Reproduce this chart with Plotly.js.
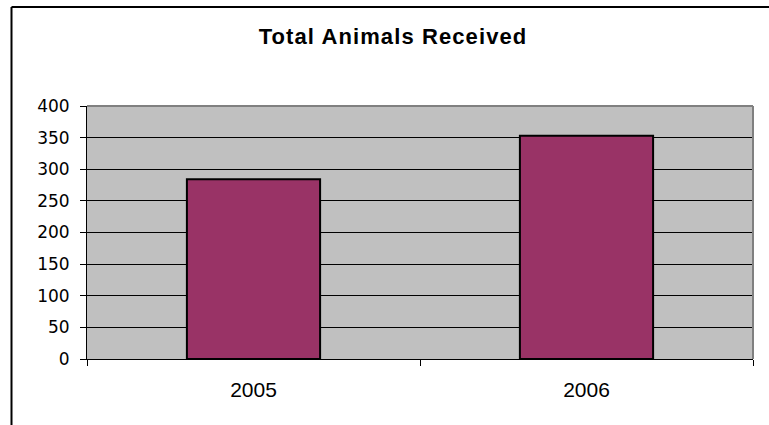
<!DOCTYPE html>
<html>
<head>
<meta charset="utf-8">
<script src="https://cdn.plot.ly/plotly-3.0.1.min.js"></script>
<style>html,body{margin:0;padding:0;background:#fff;}#chart{width:769px;height:425px;}
#chart .gtitle{letter-spacing:1.1px;}</style>
</head>
<body>
<div id="chart"></div>
<script>
const categories = ["2005", "2006"];
const animalsReceived = [284, 353];
const yTickValues = [0, 50, 100, 150, 200, 250, 300, 350, 400];
const chartTitle = "Total Animals Received";

const L = 87, R = 16, T = 106, B = 66, W = 769, H = 425;
const pw = W - L - R, ph = H - T - B;
const px = p => (p - L) / pw;
const py = p => (H - B - p) / ph;

const trace = {
  type: "bar",
  x: categories,
  y: animalsReceived,
  marker: { color: "#993366", line: { color: "#000000", width: 2 } },
  hoverinfo: "x+y"
};

const layout = {
  width: W, height: H,
  margin: { l: L, r: R, t: T, b: B, pad: 0 },
  paper_bgcolor: "#ffffff",
  plot_bgcolor: "#C0C0C0",
  font: { family: "Liberation Sans, Arial, sans-serif", color: "#000000", size: 17 },
  title: {
    text: "<b>" + chartTitle + "</b>",
    font: { size: 22, family: "Liberation Sans, Arial, sans-serif", color: "#000" },
    x: 393 / W, xref: "container", xanchor: "center",
    y: 1 - 36 / H, yref: "container", yanchor: "middle"
  },
  bargap: 0.6,
  showlegend: false,
  xaxis: {
    type: "category",
    showgrid: false,
    showline: true, linecolor: "#000000", linewidth: 1,
    ticks: "outside", ticklen: 6, tickcolor: "#000000", tickwidth: 1,
    tickson: "boundaries",
    ticklabelstandoff: 12,
    tickfont: { size: 21, family: "Liberation Sans, Arial, sans-serif" },
    fixedrange: true
  },
  yaxis: {
    range: [0, 400],
    tickvals: yTickValues,
    showgrid: true, gridcolor: "#000000", gridwidth: 1,
    zeroline: false,
    showline: true, linecolor: "#000000", linewidth: 1,
    ticks: "outside", ticklen: 6, tickcolor: "#000000", tickwidth: 1,
    ticklabelstandoff: 7,
    tickfont: { size: 17, family: "DejaVu Sans, sans-serif" },
    fixedrange: true
  },
  shapes: [
    { type: "line", xref: "paper", yref: "paper", x0: 0, x1: 1, y0: 1, y1: 1, line: { color: "#808080", width: 2 } },
    { type: "line", xref: "paper", yref: "paper", x0: 1, x1: 1, y0: 0, y1: 1, line: { color: "#808080", width: 2 } },
    { type: "line", xref: "paper", yref: "paper", x0: px(11.5), x1: px(11.5), y0: py(7), y1: py(440), line: { color: "#000000", width: 2 } },
    { type: "line", xref: "paper", yref: "paper", x0: px(11.5), x1: px(790), y0: py(7), y1: py(7), line: { color: "#000000", width: 2 } }
  ]
};

Plotly.newPlot("chart", [trace], layout, { displayModeBar: false, staticPlot: true });
</script>
</body>
</html>
